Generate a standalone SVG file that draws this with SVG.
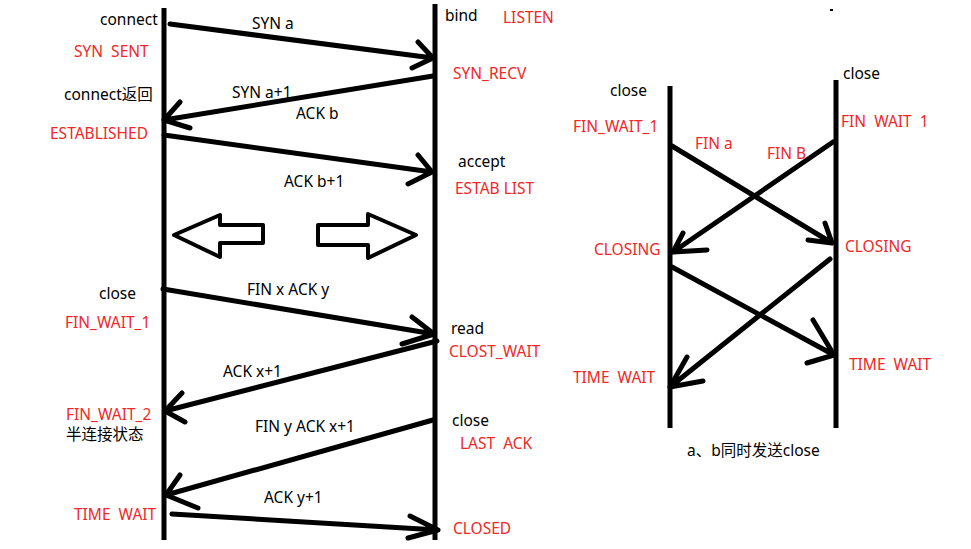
<svg xmlns="http://www.w3.org/2000/svg" width="971" height="549" viewBox="0 0 971 549">
<style>
text{font-family:"Noto Sans","Noto Sans CJK SC",sans-serif;font-size:15.5px;fill:#000}
.r{fill:#f02828}
.ln{stroke:#000;stroke-width:5;fill:none;stroke-linecap:round;stroke-linejoin:round}
.life{stroke:#000;stroke-width:5;fill:none}
.big{stroke:#000;stroke-width:4;fill:#fff;stroke-linejoin:round}
</style>
<rect width="971" height="549" fill="#fff"/>
<g id="lifelines">
<line class="life" x1="164" y1="8" x2="164" y2="540"/>
<line class="life" x1="435" y1="4" x2="435" y2="540"/>
<line class="life" x1="670" y1="86" x2="670" y2="428"/>
<line class="life" x1="836" y1="80" x2="836" y2="428"/>
</g>
<g id="connectors">
<path class="ln" d="M170,24 L433,58 M418,42 L433,58 L412,68"/>
<path class="ln" d="M433,76 L164,120 M180,102 L164,120 L190,128"/>
<path class="ln" d="M164,135 L432,172 M418,155 L432,172 L408,184"/>
<path class="ln" d="M163,289 L434,334 M412,317 L434,334 L402,344"/>
<path class="ln" d="M437,341 L165,411 M182,393 L165,411 L185,422"/>
<path class="ln" d="M433,420 L166,495 M180,475 L166,495 L198,508"/>
<path class="ln" d="M172,514 L438,530 M410,516 L438,530 L408,538"/>
<path class="ln" d="M672,146 L832,243 M825,223 L832,243 L808,240"/>
<path class="ln" d="M833,142 L673,252 M683,233 L673,252 L707,250"/>
<path class="ln" d="M672,267 L834,355 M813,320 L834,355 L807,363"/>
<path class="ln" d="M830,259 L670,387 M687,357 L670,387 L703,381"/>
</g>
<g id="hollow-arrows">
<polygon class="big" points="174,235 220,215 220,225 263,225 263,243 220,243 220,257"/>
<polygon class="big" points="318,225 368,225 368,214 416,235 368,258 368,245 318,245"/>
</g>
<g id="client-labels">
<text x="100" y="25">connect</text>
<text class="r" x="74" y="57" xml:space="preserve">SYN  SENT</text>
<text x="64" y="100">connect返回</text>
<text class="r" x="50" y="139">ESTABLISHED</text>
<text x="99" y="299">close</text>
<text class="r" x="65" y="328">FIN_WAIT_1</text>
<text class="r" x="66" y="420">FIN_WAIT_2</text>
<text x="66" y="440">半连接状态</text>
<text class="r" x="74" y="520" xml:space="preserve">TIME  WAIT</text>
</g>
<g id="server-labels">
<text x="445" y="21">bind</text>
<text class="r" x="503" y="23">LISTEN</text>
<text class="r" x="453" y="79">SYN_RECV</text>
<text x="458" y="167">accept</text>
<text class="r" x="455" y="194">ESTAB LIST</text>
<text x="451" y="334">read</text>
<text class="r" x="449" y="357">CLOST_WAIT</text>
<text x="452" y="426">close</text>
<text class="r" x="460" y="449" xml:space="preserve">LAST  ACK</text>
<text class="r" x="453" y="534">CLOSED</text>
</g>
<g id="message-labels">
<text x="252" y="29">SYN a</text>
<text x="232" y="98">SYN a+1</text>
<text x="296" y="119">ACK b</text>
<text x="284" y="187">ACK b+1</text>
<text x="247" y="295">FIN x ACK y</text>
<text x="223" y="377">ACK x+1</text>
<text x="255" y="432">FIN y ACK x+1</text>
<text x="264" y="503">ACK y+1</text>
</g>
<g id="simultaneous">
<text x="610" y="96">close</text>
<text x="843" y="79">close</text>
<text class="r" x="573" y="132">FIN_WAIT_1</text>
<text class="r" x="841" y="127" xml:space="preserve">FIN  WAIT  1</text>
<text class="r" x="695" y="149">FIN a</text>
<text class="r" x="767" y="159">FIN B</text>
<text class="r" x="594" y="255">CLOSING</text>
<text class="r" x="845" y="252">CLOSING</text>
<text class="r" x="573" y="383" xml:space="preserve">TIME  WAIT</text>
<text class="r" x="849" y="370" xml:space="preserve">TIME  WAIT</text>
<text x="687" y="456">a、b同时发送close</text>
</g>
<rect x="830" y="9" width="3" height="2" fill="#000"/>
</svg>
